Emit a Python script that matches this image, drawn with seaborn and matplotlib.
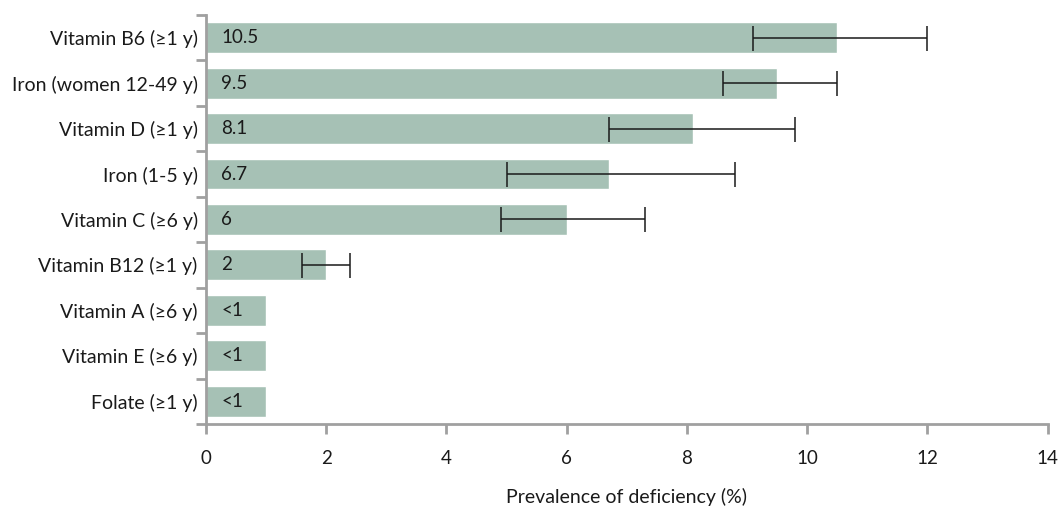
import numpy as np
import pandas as pd
import seaborn as sns
import matplotlib.pyplot as plt

# values
nutrients = ['Vitamin B6 (≥1 y)', 'Iron (women 12-49 y)', 'Vitamin D (≥1 y)',
             'Iron (1-5 y)', 'Vitamin C (≥6 y)', 'Vitamin B12 (≥1 y)',
             'Vitamin A (≥6 y)', 'Vitamin E (≥6 y)', 'Folate (≥1 y)']
prevalence = [10.5, 9.5, 8.1, 6.7, 6.0, 2.0, 1.0, 1.0, 1.0]
value_labels = ['10.5', '9.5', '8.1', '6.7', '6', '2', '<1', '<1', '<1']
ci_low = [9.1, 8.6, 6.7, 5.0, 4.9, 1.6, np.nan, np.nan, np.nan]
ci_high = [12.0, 10.5, 9.8, 8.8, 7.3, 2.4, np.nan, np.nan, np.nan]

df = pd.DataFrame({'nutrient': nutrients, 'prevalence': prevalence,
                   'lo': ci_low, 'hi': ci_high})

sns.set_style('white')
plt.rcParams['font.family'] = ['Lato', 'DejaVu Sans']

fig = plt.figure(figsize=(10.58, 5.08), dpi=100)
ax = fig.add_axes([0.1947, 0.1654, 0.7955, 0.8051])

sns.barplot(data=df, x='prevalence', y='nutrient', orient='h',
            color='#a6c1b5', saturation=1, width=0.68, ax=ax)

# confidence intervals
pos = np.arange(len(df))
has_ci = df['lo'].notna().values
xerr = [df['prevalence'][has_ci] - df['lo'][has_ci],
        df['hi'][has_ci] - df['prevalence'][has_ci]]
ax.errorbar(df['prevalence'][has_ci], pos[has_ci], xerr=xerr, fmt='none',
            ecolor='#1a1a1a', elinewidth=1.1, capsize=9, capthick=1.1)

# value labels inside bars
for i, lab in enumerate(value_labels):
    ax.annotate(lab, (0, i), xytext=(11, 0), textcoords='offset points',
                ha='left', va='center', fontsize=13.5, color='#1a1a1a')

ax.set_xlim(0, 14)
ax.set_ylim(len(df) - 0.5, -0.5)
ax.set_xticks(range(0, 15, 2))
ax.set_yticks(pos)
ax.set_yticks(np.arange(-0.5, len(df)), minor=True)
ax.tick_params(axis='y', which='major', length=0, pad=6, labelsize=14,
               labelcolor='#1a1a1a')
ax.tick_params(axis='y', which='minor', length=7, width=2, color='#a0a0a0',
               direction='out', left=True)
ax.tick_params(axis='x', length=7, width=2, color='#a0a0a0', direction='out',
               bottom=True, pad=12, labelsize=13.5, labelcolor='#1a1a1a')

for side in ['top', 'right']:
    ax.spines[side].set_visible(False)
for side in ['left', 'bottom']:
    ax.spines[side].set_color('#a0a0a0')
    ax.spines[side].set_linewidth(2)

ax.set_ylabel('')
ax.set_xlabel('Prevalence of deficiency (%)', fontsize=14, color='#1a1a1a',
              labelpad=15)
ax.grid(False)

fig.savefig('out.png', dpi=100)
